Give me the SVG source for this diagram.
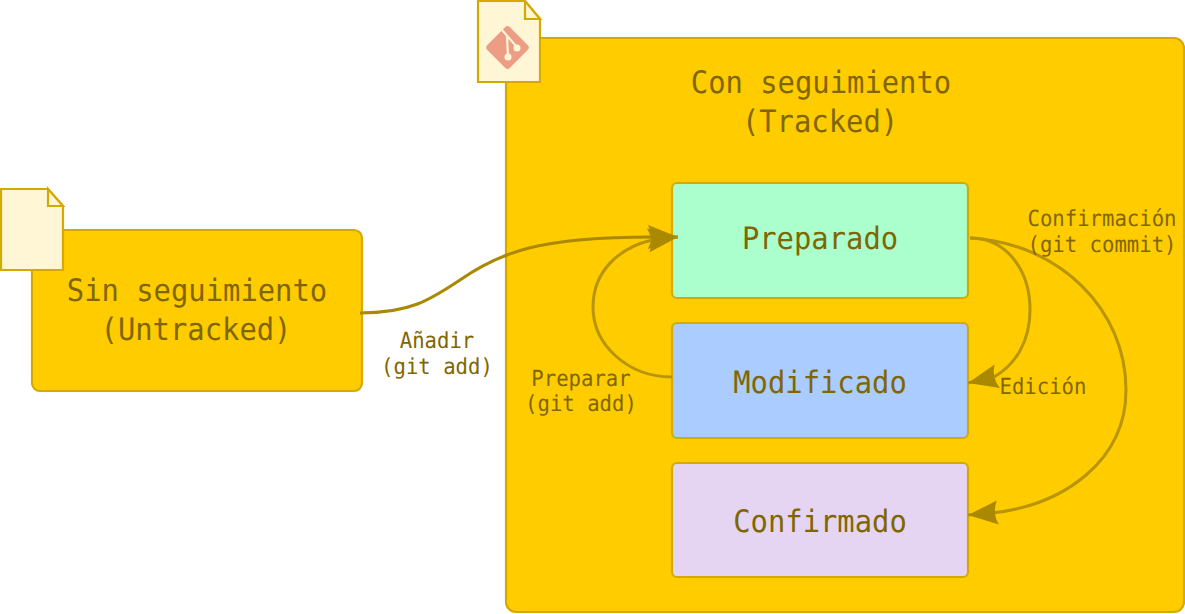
<svg xmlns="http://www.w3.org/2000/svg" width="1185" height="614" viewBox="0 0 1185 614">
<style>
.box{stroke:#d4aa00;stroke-width:2.200}
text{font-family:"DejaVu Sans Mono",monospace;fill:#806600;text-anchor:middle;text-rendering:geometricPrecision;transform-box:fill-box;transform-origin:center;transform:scaleX(.93)}
.big{font-size:31px}
.lab{font-size:22.200px}
.conn{fill:none;stroke:#aa8800;stroke-width:3}
.soft{stroke:#b89408}
.doc{fill:#fff6d5;stroke:#d4aa00;stroke-width:2.200}
</style>
<defs>
<marker id="arrow" markerUnits="userSpaceOnUse" markerWidth="32" markerHeight="26" refX="30" refY="13" orient="auto">
<path d="M30 13 L0 25 Q6 13 0 1 Z" fill="#aa8800"/>
</marker>
</defs>
<g id="untracked">
<rect class="box" x="32" y="230" width="330" height="161" rx="8" fill="#ffcc00"/>
<path class="doc" d="M1 189H48L63 206V270H1Z"/>
<path class="doc" d="M48 189V206H63Z"/>
<text class="big" x="197" y="301">Sin seguimiento</text>
<text class="big" x="196" y="340">(Untracked)</text>
</g>
<g id="tracked">
<rect class="box" x="506" y="38" width="678" height="574" rx="10" fill="#ffcc00"/>
<text class="big" x="821" y="93">Con seguimiento</text>
<text class="big" x="820" y="132">(Tracked)</text>
</g>
<g id="tracked-icon">
<path class="doc" d="M478 1H525L540 19V82H478Z"/>
<path class="doc" d="M525 1V19H540Z"/>
<rect x="491.500" y="31.500" width="32" height="32" rx="3.500" fill="#ee9d85" transform="rotate(45 507.500 47.500)"/>
<path d="M502 30L516 46M507 36L508 57" fill="none" stroke="#fff6d5" stroke-width="2.200"/>
<circle cx="508" cy="57" r="3.500" fill="#fff6d5"/>
<circle cx="517" cy="48" r="3.500" fill="#fff6d5"/>
</g>
<g id="preparado">
<rect class="box" x="672" y="183" width="296" height="115" rx="5" fill="#aaffcc"/>
<text class="big" x="820" y="249">Preparado</text>
</g>
<g id="modificado">
<rect class="box" x="672" y="323" width="296" height="115" rx="5" fill="#aaccff"/>
<text class="big" x="820" y="393">Modificado</text>
</g>
<g id="confirmado">
<rect class="box" x="672" y="463" width="296" height="114" rx="5" fill="#e5d5f2"/>
<text class="big" x="820" y="532">Confirmado</text>
</g>
<g id="connectors">
<path class="conn" marker-end="url(#arrow)" d="M360 313C410 313 430 300 460 280C500 252 540 237 652 237L678 237"/>
<path class="conn soft" marker-end="url(#arrow)" d="M672 377C628 377 593 345 593 307C593 272 618 248 652 240L678 237"/>
<path class="conn soft" marker-end="url(#arrow)" d="M970 238C1008 238 1030 272 1030 310C1030 342 1015 365 994 377L968 383"/>
<path class="conn soft" marker-end="url(#arrow)" d="M970 238C1060 243 1126 310 1126 390C1126 460 1065 505 992 513L968 515"/>
</g>
<g id="labels">
<text class="lab" x="437" y="348">Añadir</text>
<text class="lab" x="437" y="374">(git add)</text>
<text class="lab" x="581" y="386">Preparar</text>
<text class="lab" x="581" y="411">(git add)</text>
<text class="lab" x="1102" y="226">Confirmación</text>
<text class="lab" x="1102" y="252">(git commit)</text>
<text class="lab" x="1043" y="394">Edición</text>
</g>
</svg>
